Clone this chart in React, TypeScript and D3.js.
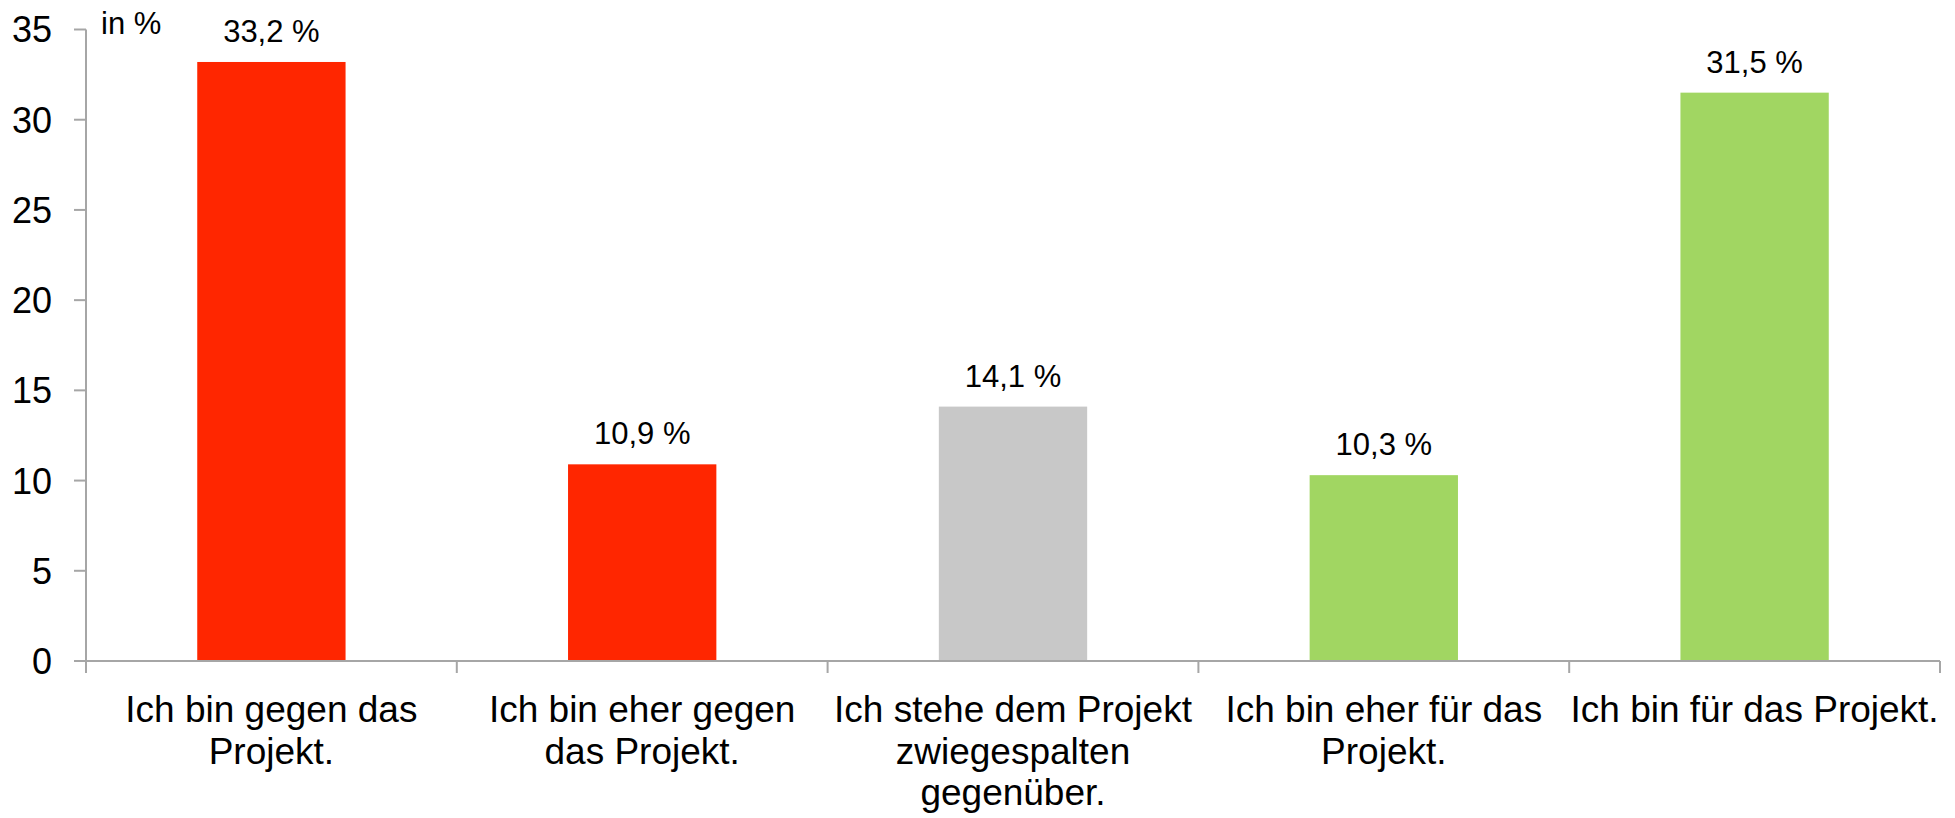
import React from "react";
import * as d3 from "d3";

const categories: string[][] = [
  ["Ich bin gegen das", "Projekt."],
  ["Ich bin eher gegen", "das Projekt."],
  ["Ich stehe dem Projekt", "zwiegespalten", "gegenüber."],
  ["Ich bin eher für das", "Projekt."],
  ["Ich bin für das Projekt."],
];
const values: number[] = [33.2, 10.9, 14.1, 10.3, 31.5];
const valueLabels: string[] = ["33,2 %", "10,9 %", "14,1 %", "10,3 %", "31,5 %"];
const barColors: string[] = ["#FF2600", "#FF2600", "#C8C8C8", "#A1D662", "#A1D662"];
const yTicks: number[] = [0, 5, 10, 15, 20, 25, 30, 35];
const unitLabel = "in %";

const W = 1955;
const H = 818;
const left = 86;
const right = 1940;
const top = 29.5;
const bottom = 661;

export default function App() {
  const x = d3
    .scaleBand<number>()
    .domain(values.map((_, i) => i))
    .range([left, right])
    .paddingInner(0.6)
    .paddingOuter(0.3);
  const y = d3.scaleLinear().domain([0, 35]).range([bottom, top]);
  const step = (right - left) / values.length;
  const axisColor = "#A6A6A6";
  const font = "'Liberation Sans', Arial, sans-serif";

  return (
    <svg
      width={W}
      height={H}
      style={{ position: "absolute", left: 0, top: 0 }}
      fontFamily={font}
    >
      <rect x={0} y={0} width={W} height={H} fill="#fff" />
      {/* bars */}
      {values.map((v, i) => (
        <rect
          key={i}
          x={x(i)}
          y={y(v)}
          width={x.bandwidth()}
          height={y(0) - y(v)}
          fill={barColors[i]}
        />
      ))}
      {/* value labels */}
      {values.map((v, i) => (
        <text
          key={i}
          x={(x(i) as number) + x.bandwidth() / 2}
          y={y(v) - 20}
          textAnchor="middle"
          fontSize={31}
          fill="#000"
        >
          {valueLabels[i]}
        </text>
      ))}
      {/* y axis */}
      <line x1={left} x2={left} y1={top} y2={bottom} stroke={axisColor} strokeWidth={2} />
      {yTicks.map((t) => (
        <g key={t}>
          <line x1={left - 12} x2={left} y1={y(t)} y2={y(t)} stroke={axisColor} strokeWidth={2} />
          <text
            x={52}
            y={y(t)}
            dy="0.36em"
            textAnchor="end"
            fontSize={36}
            fill="#000"
          >
            {t}
          </text>
        </g>
      ))}
      {/* x axis */}
      <line x1={left} x2={right} y1={bottom} y2={bottom} stroke={axisColor} strokeWidth={2} />
      {d3.range(values.length + 1).map((i) => (
        <line
          key={i}
          x1={left + i * step}
          x2={left + i * step}
          y1={bottom}
          y2={bottom + 12}
          stroke={axisColor}
          strokeWidth={2}
        />
      ))}
      {categories.map((lines, i) => (
        <text
          key={i}
          x={(x(i) as number) + x.bandwidth() / 2}
          y={722}
          textAnchor="middle"
          fontSize={37}
          fill="#000"
        >
          {lines.map((l, j) => (
            <tspan key={j} x={(x(i) as number) + x.bandwidth() / 2} y={722 + j * 41.5}>
              {l}
            </tspan>
          ))}
        </text>
      ))}
      <text x={101} y={34} fontSize={31} fill="#000">
        {unitLabel}
      </text>
    </svg>
  );
}
